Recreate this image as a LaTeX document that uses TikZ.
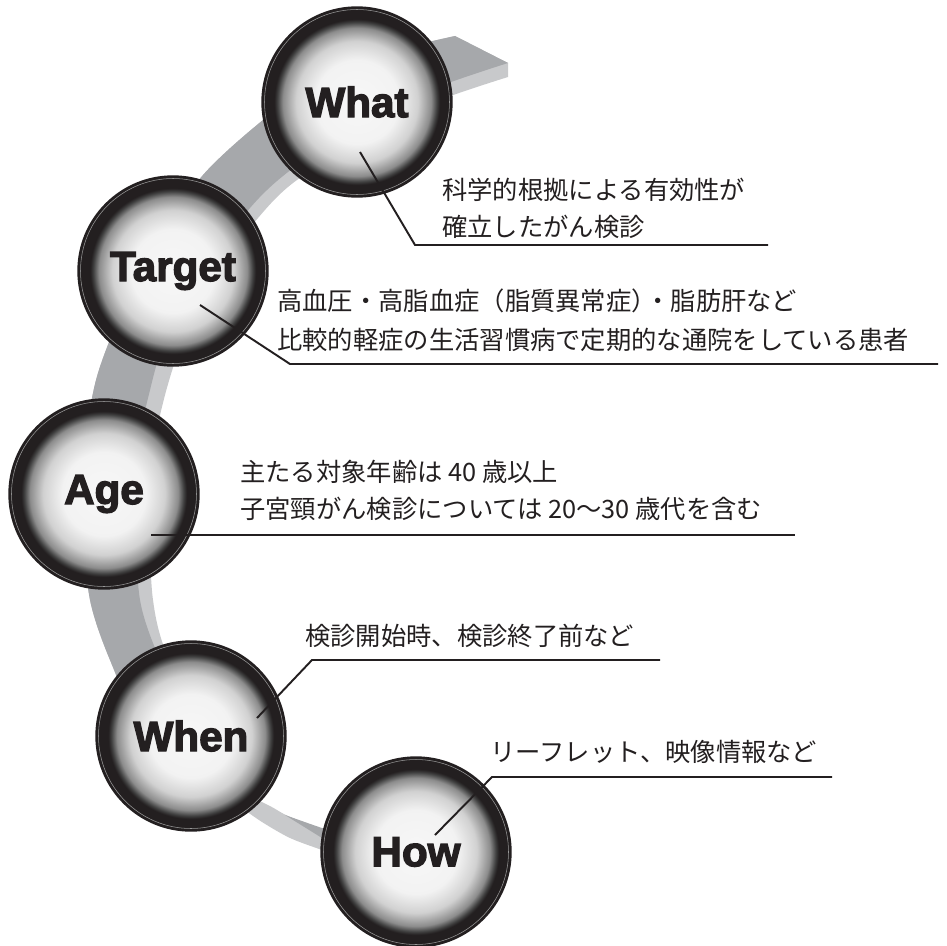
\documentclass[tikz,border=0pt]{standalone}
\usepackage{fontspec}
\newfontfamily\jpfont{Noto Sans CJK JP}
\newfontfamily\ballfont{Liberation Sans}[UprightFont={* Bold},FakeBold=3]
\definecolor{ribbondark}{RGB}{166,168,171}
\definecolor{ribbonlight}{RGB}{200,201,203}
\definecolor{inkgray}{RGB}{35,31,32}
\pgfdeclareradialshading{ballshade}{\pgfpoint{0bp}{0bp}}{%
  color(0bp)=(white!97!black); color(11bp)=(white!95!black);
  color(16bp)=(black!18); color(19.5bp)=(black!45); color(21bp)=(black!75);
  color(21.8bp)=(inkgray); color(25bp)=(inkgray); color(50bp)=(inkgray)}
\begin{document}
\begin{tikzpicture}[x=0.02cm,y=-0.02cm,
    ball/.style={circle,minimum size=3.8cm,inner sep=0pt,shading=ballshade,
      draw=inkgray,line width=0.8pt,text=inkgray,
      font=\ballfont\fontsize{24}{28}\selectfont},
    note/.style={anchor=west,inner sep=0pt,text=inkgray,
      font=\jpfont\fontsize{14.4}{17}\selectfont},
    leader/.style={inkgray,line width=1.1pt}]
    \useasboundingbox (0,0) rectangle (946,946);

    % Ribbon (light side first, dark face on top)
    \fill[ribbonlight] plot[smooth] coordinates {(455,36) (380,55) (310,88) (263,120) (203,175)
      (150,250) (118,320) (96,380) (84,450) (82,520) (90,600) (110,660) (140,720) (200,760)}
      -- plot[smooth] coordinates {(205,740) (165,650) (153,600) (150,540) (152,460) (165,395)
      (185,335) (220,270) (258,218) (297,180) (380,130) (440,100) (508,77)}
      -- (508,63) -- cycle;
    \fill[ribbondark] plot[smooth] coordinates {(455,36) (380,55) (310,88) (263,120) (203,175)
      (150,250) (118,320) (96,380) (84,450) (82,520) (90,600) (110,660) (140,720) (200,760)}
      -- plot[smooth] coordinates {(200,740) (160,660) (140,600) (136,520) (140,440) (150,390)
      (165,340) (200,275) (250,208) (288,172) (350,130) (430,90) (508,63)}
      -- cycle;

    % Ribbon twist between When and How
    \fill[ribbonlight] plot[smooth] coordinates {(245,794) (270,806) (288,816) (322,829) (340,834)}
      -- plot[smooth] coordinates {(340,856) (322,850) (290,838) (262,822) (242,808)} -- cycle;
    \fill[ribbondark] plot[smooth] coordinates {(285,815) (322,828) (340,833)}
      -- (340,846) -- plot[smooth] coordinates {(322,838) (285,815)} -- cycle;

    % Balls
    \node[ball] (what) at (357,102) {What};
    \node[ball] (target) at (173,271) {Target};
    \node[ball] (age) at (104,494) {Age};
    \node[ball] (when) at (191,736) {When};
    \node[ball] (how) at (416,852) {How};
    \foreach \b in {what,target,age,when,how}
      \draw[white!60!black,line width=0.3pt] (\b.center) circle[radius=92.5];

    % What
    \coordinate (whatpin) at (360,152);
    \coordinate (whatknee) at (415,245);
    \coordinate (whatend) at (768,245);
    \draw[leader] (whatpin) -- (whatknee) -- (whatend);
    \node[note] (whattexta) at (442,190) {科学的根拠による有効性が};
    \node[note] (whattextb) at (442,227) {確立したがん検診};

    % Target
    \coordinate (targetpin) at (200,305);
    \coordinate (targetknee) at (290,364);
    \coordinate (targetend) at (938,364);
    \draw[leader] (targetpin) -- (targetknee) -- (targetend);
    \node[note] (targettexta) at (277,301) {高血圧・高脂血症（脂質異常症）\kern-0.45em・脂肪肝など};
    \node[note] (targettextb) at (277,340) {比較的軽症の生活習慣病で定期的な通院をしている患者};

    % Age
    \coordinate (agepin) at (151,535);
    \coordinate (ageend) at (795,535);
    \draw[leader] (agepin) -- (ageend);
    \node[note] (agetexta) at (240,472) {主たる対象年齢は 40 歳以上};
    \node[note] (agetextb) at (240,509) {子宮頸がん検診については 20～30 歳代を含む};

    % When
    \coordinate (whenpin) at (257,718);
    \coordinate (whenknee) at (312,660);
    \coordinate (whenend) at (660,660);
    \draw[leader] (whenpin) -- (whenknee) -- (whenend);
    \node[note] (whentext) at (305,636) {検診開始時、検診終了前など};

    % How
    \coordinate (howpin) at (435,835);
    \coordinate (howknee) at (492,777);
    \coordinate (howend) at (832,777);
    \draw[leader] (howpin) -- (howknee) -- (howend);
    \node[note] (howtext) at (490,752) {リーフレット、映像情報など};
\end{tikzpicture}
\end{document}
